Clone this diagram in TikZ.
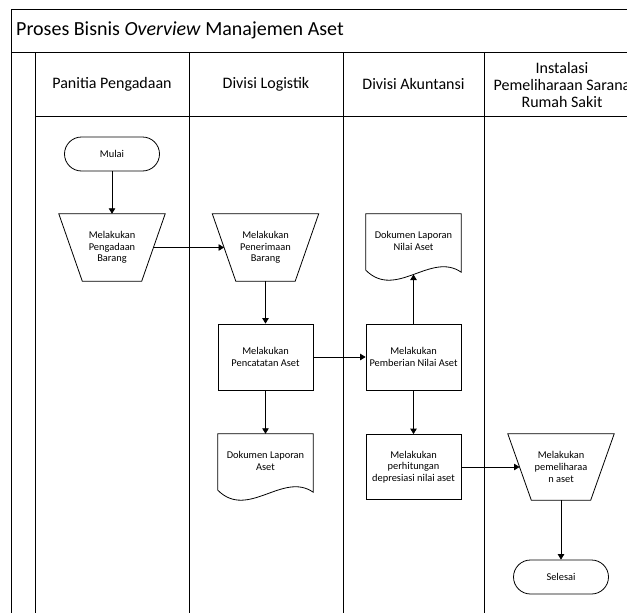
\documentclass[tikz,border=0pt]{standalone}
\usepackage{fontspec}
\setmainfont{Carlito}
\usetikzlibrary{arrows.meta}
\newcommand\nodefnt{\fontsize{10.4}{11.7}\selectfont}
\newcommand\hdrfnt{\fontsize{16}{17}\selectfont}
\newcommand\titlefnt{\fontsize{20}{22}\selectfont}
\tikzset{
  lane/.style={line width=1pt},
  flow/.style={draw, line width=0.8pt},
  procbox/.style={flow, rectangle, minimum width=95pt, minimum height=66pt, inner sep=1pt, align=center, font=\nodefnt},
  manualbox/.style={rectangle, minimum width=106pt, minimum height=67pt, inner sep=0pt, align=center, font=\nodefnt},
  terminal/.style={flow, rectangle, rounded corners=17pt, minimum width=95pt, minimum height=34pt, align=center, font=\nodefnt},
  docbox/.style={rectangle, minimum width=95pt, minimum height=54pt, inner sep=0pt, align=center, font=\nodefnt},
  shapeline/.style={line width=0.8pt},
  arr/.style={line width=0.8pt, -{Triangle[length=5.5pt,width=6.5pt]}},
  hdr/.style={align=center, font=\hdrfnt},
}
\begin{document}
\begin{tikzpicture}[x=1pt,y=-1pt]
\useasboundingbox (0,0) rectangle (627,613);
% frame
\draw[lane] (11.7,613) -- (11.7,9) -- (627,9);
\draw[lane] (11.7,52) -- (627,52);
\draw[lane] (35,52) -- (35,613);
\draw[lane] (189,52) -- (189,613);
\draw[lane] (343,52) -- (343,613);
\draw[lane] (484,52) -- (484,613);
\draw[lane] (35,116) -- (627,116);
% title and headers
\node[anchor=west, font=\titlefnt, inner sep=0pt] (title) at (16,30.5) {Proses Bisnis \textit{Overview} Manajemen Aset};
\node[hdr] (h1) at (112,84) {Panitia Pengadaan};
\node[hdr] (h2) at (266,84) {Divisi Logistik};
\node[hdr] (h3) at (413.5,84) {Divisi Akuntansi};
\node[hdr] (h4) at (562,85) {Instalasi\\Pemeliharaan Sarana\\Rumah Sakit};
% nodes
\node[terminal] (mulai) at (112,154) {Mulai};
\node[manualbox] (t1) at (112,247.5) {Melakukan\\Pengadaan\\Barang};
\node[manualbox] (t2) at (265.5,247.5) {Melakukan\\Penerimaan\\Barang};
\node[procbox] (catat) at (265.5,357) {Melakukan\\Pencatatan Aset};
\node[docbox] (d1) at (265.5,461) {Dokumen Laporan\\Aset};
\node[procbox] (beri) at (413.5,357) {Melakukan\\Pemberian Nilai Aset};
\node[docbox] (d2) at (413.5,241) {Dokumen Laporan\\Nilai Aset};
\node[procbox, minimum height=65pt] (hitung) at (413.5,467) {Melakukan\\perhitungan\\depresiasi nilai aset};
\node[manualbox, minimum height=66pt] (t3) at (561,467) {Melakukan\\pemeliharaa\\n aset};
\node[terminal] (selesai) at (561,577) {Selesai};
% manual operation borders
\foreach \t in {t1,t2,t3}{
  \draw[shapeline] (\t.north west) -- (\t.north east) -- ([xshift=-23.5pt]\t.south east) -- ([xshift=23.5pt]\t.south west) -- cycle;
}
% document borders
\foreach \d in {d1,d2}{
  \draw[shapeline] ([yshift=-2pt]\d.south west) -- (\d.north west) -- (\d.north east) -- ([yshift=-4pt]\d.south east)
    .. controls ([xshift=65pt,yshift=17.1pt]\d.south west) and ([xshift=30pt,yshift=-32pt]\d.south west) .. ([yshift=-2pt]\d.south west) -- cycle;
}
% connectors
\draw[arr] (mulai) -- (t1);
\draw[arr] ([xshift=-11.75pt]t1.east) -- ([xshift=11.75pt]t2.west);
\draw[arr] (t2) -- (catat);
\draw[arr] (catat) -- (beri);
\draw[arr] (catat) -- (d1);
\draw[arr] (beri) -- ([yshift=-6.3pt]d2.south);
\draw[arr] (beri) -- (hitung);
\draw[arr] (hitung) -- ([xshift=11.75pt]t3.west);
\draw[arr] (t3) -- (selesai);
\end{tikzpicture}
\end{document}
